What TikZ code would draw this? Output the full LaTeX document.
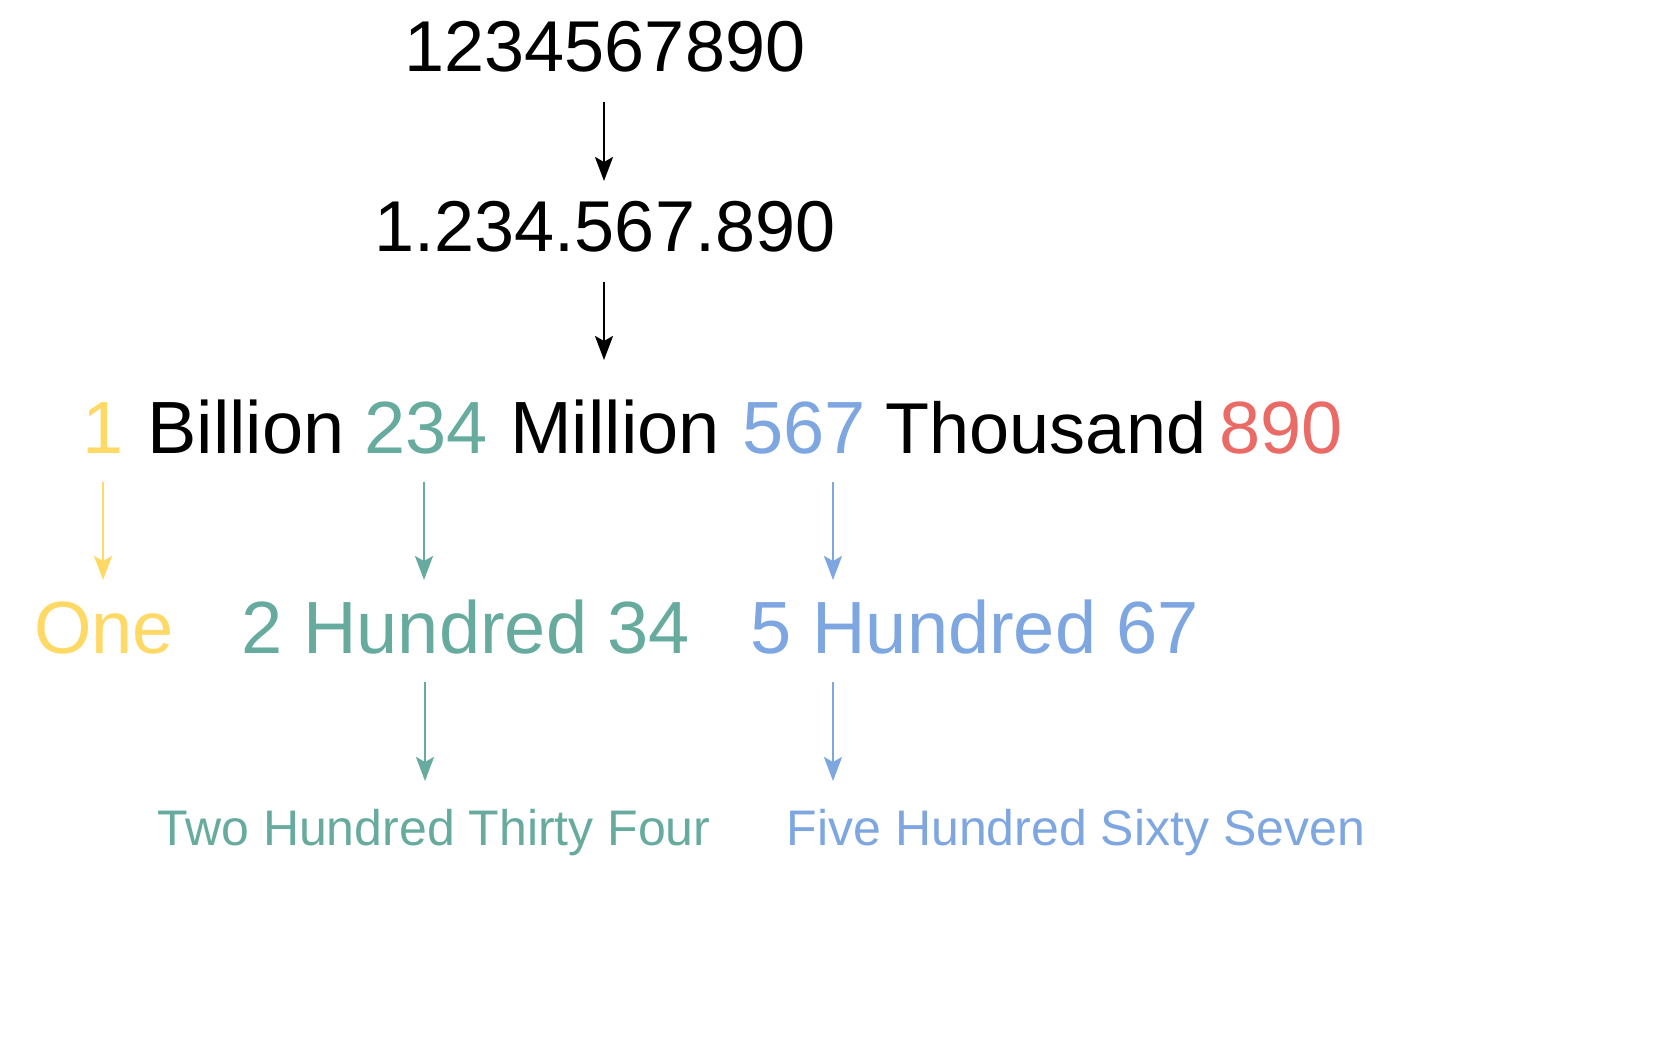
\documentclass[tikz,border=0pt]{standalone}
\usepackage{fontspec}
\setmainfont{Liberation Sans}
\usetikzlibrary{arrows.meta,calc}
\definecolor{yellowc}{HTML}{FFD966}
\definecolor{tealc}{HTML}{67AB9F}
\definecolor{bluec}{HTML}{7EA6E0}
\definecolor{redc}{HTML}{EA6B66}
\tikzset{
  txt/.style={anchor=base, inner sep=0pt},
  big/.style={txt, font=\fontsize{72}{80}\selectfont},
  mid/.style={txt, font=\fontsize{74}{80}\selectfont},
  midb/.style={txt, font=\fontsize{74}{80}\selectfont},
  small/.style={txt, font=\fontsize{50}{56}\selectfont},
  arr/.style={line width=2.5pt, -{Stealth[length=24pt, width=18pt, inset=5pt]}}
}
\begin{document}
\begin{tikzpicture}[x=1pt, y=-1pt]
\fill[white] (0,0) rectangle (1670,1056);
\useasboundingbox (0,0) rectangle (1670,1056);

% rows 1 and 2
\node[big] (num) at (605,72) {1234567890};
\node[big] (dots) at (605,252) {1.234.567.890};

% row 3
\node[mid, text=yellowc] (one) at (103,453) {1};
\node[mid] (billion) at (246,453) {Billion};
\node[mid, text=tealc] (t234) at (426,453) {234};
\node[mid] (million) at (615,453) {Million};
\node[mid, text=bluec] (t567) at (804,453) {567};
\node[mid, font=\fontsize{72}{80}\selectfont] (thousand) at (1046,453) {Thousand};
\node[mid, text=redc] (t890) at (1281,453) {890};

% row 4
\node[midb, text=yellowc] (wone) at (104,653) {One};
\node[midb, text=tealc] (h234) at (466,653) {2 Hundred 34};
\node[midb, text=bluec] (h567) at (975,653) {5 Hundred 67};

% row 5
\node[small, text=tealc] (w234) at (434,845) {Two Hundred Thirty Four};
\node[small, text=bluec] (w567) at (1076,845) {Five Hundred Sixty Seven};

% arrows
\draw[arr] ($(num.base)+(-1,30)$) -- ($(dots.base)+(-1,-71)$);
\draw[arr] ($(dots.base)+(-1,30)$) -- ($(dots.base)+(-1,108)$);
\draw[arr, yellowc] ($(one.base)+(0,29)$) -- ($(wone.base)+(-1,-73)$);
\draw[arr, tealc] ($(t234.base)+(-2,29)$) -- ($(h234.base)+(-42,-73)$);
\draw[arr, bluec] ($(t567.base)+(29,29)$) -- ($(h567.base)+(-142,-73)$);
\draw[arr, tealc] ($(h234.base)+(-41,29)$) -- ($(w234.base)+(-9,-64)$);
\draw[arr, bluec] ($(h567.base)+(-142,29)$) -- ($(w567.base)+(-243,-64)$);
\end{tikzpicture}
\end{document}
